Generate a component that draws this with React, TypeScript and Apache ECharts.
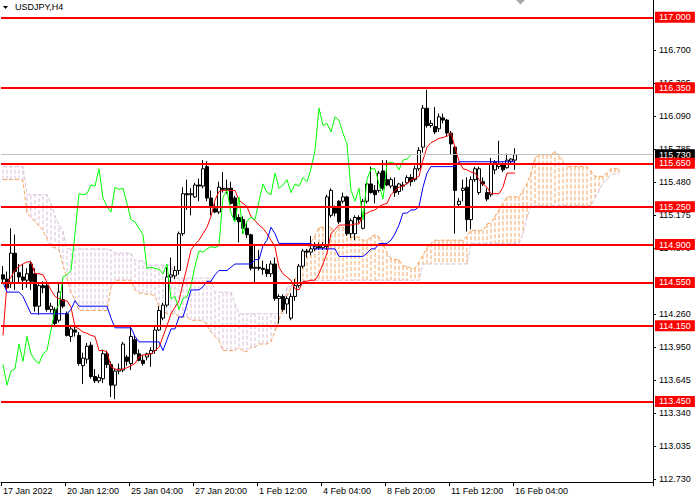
import React, { useEffect, useRef } from "react";
import * as echarts from "echarts";

// ---- Candles (H4 bars, index 0 = left edge) ----
const opens = [
  114.62,114.58,114.55,114.82,114.64,114.60,114.57,114.72,114.63,114.33,
  114.52,114.52,114.30,114.30,114.20,114.39,114.26,114.05,114.11,114.06,
  113.78,113.84,113.97,113.68,113.64,113.66,113.89,113.79,113.60,113.73,
  113.74,113.86,113.80,114.02,113.89,113.83,113.86,113.89,113.92,114.11,
  114.22,114.34,114.60,114.61,114.66,115.00,115.37,115.36,115.34,115.45,
  115.44,115.62,115.33,115.23,115.20,115.42,115.41,115.42,115.33,115.15,
  115.13,115.05,114.99,114.68,114.69,114.68,114.67,114.63,114.72,114.40,
  114.42,114.35,114.22,114.42,114.52,114.70,114.84,114.83,114.86,114.88,
  114.87,114.88,115.17,115.24,115.30,115.30,115.34,115.00,115.00,115.15,
  115.05,115.30,115.46,115.40,115.40,115.58,115.50,115.44,115.44,115.39,
  115.45,115.47,115.52,115.50,115.60,115.80,116.16,116.00,115.99,115.97,
  116.07,116.05,115.93,115.80,115.27,115.40,115.43,115.13,115.50,115.38,
  115.48,115.38,115.36,115.59,115.62,115.64,115.61,115.67,115.68,
];
const closes = [
  114.58,114.50,114.82,114.65,114.60,114.57,114.63,114.56,114.33,114.52,
  114.50,114.30,114.33,114.17,114.46,114.33,114.06,114.12,114.09,113.80,
  113.85,113.96,113.68,113.64,113.67,113.89,113.79,113.60,113.73,113.75,
  113.98,113.82,114.05,113.89,113.83,113.80,113.89,113.92,114.11,114.29,
  114.34,114.60,114.62,114.66,115.00,115.37,115.36,115.37,115.45,115.44,
  115.60,115.33,115.25,115.20,115.43,115.41,115.42,115.28,115.13,115.11,
  115.05,114.99,114.68,114.69,114.68,114.67,114.63,114.72,114.40,114.42,
  114.30,114.40,114.42,114.52,114.70,114.84,114.83,114.86,114.88,114.87,
  114.89,115.34,115.40,115.19,115.11,115.34,115.00,115.12,115.15,115.13,
  115.30,115.46,115.38,115.36,115.56,115.42,115.45,115.50,115.38,115.46,
  115.44,115.52,115.48,115.60,115.77,116.16,116.00,116.02,115.94,116.08,
  116.05,115.93,115.83,115.40,115.30,115.42,115.13,115.50,115.60,115.60,
  115.46,115.32,115.65,115.66,115.65,115.59,115.68,115.69,115.73,
];
const highs = [
  114.70,114.65,115.05,114.99,114.72,114.72,114.68,114.75,114.68,114.55,
  114.56,114.55,114.36,114.32,114.55,114.54,114.28,114.15,114.14,114.09,
  113.90,113.99,114.00,113.75,113.70,113.93,113.92,113.82,113.75,113.80,
  114.00,113.88,114.14,114.06,113.93,113.88,113.90,113.95,114.14,114.33,
  114.36,114.69,114.78,114.70,115.02,115.43,115.50,115.42,115.47,115.51,
  115.68,115.67,115.40,115.28,115.48,115.57,115.50,115.48,115.35,115.18,
  115.16,115.11,115.00,114.89,114.85,114.75,114.72,114.75,114.78,114.44,
  114.44,114.42,114.45,114.58,114.72,114.86,114.86,114.98,114.92,114.92,
  114.92,115.36,115.42,115.26,115.31,115.38,115.35,115.14,115.17,115.17,
  115.32,115.48,115.62,115.45,115.58,115.68,115.68,115.52,115.52,115.47,
  115.48,115.54,115.55,115.63,115.80,116.19,116.33,116.05,116.17,116.11,
  116.11,116.06,115.95,115.81,115.33,115.50,115.52,115.53,115.62,115.62,
  115.52,115.42,115.70,115.68,115.86,115.66,115.74,115.70,115.79,
];
const lows = [
  114.55,114.46,114.50,114.48,114.55,114.48,114.50,114.48,114.28,114.25,
  114.45,114.28,114.27,114.15,114.18,114.31,114.05,114.00,114.05,113.78,
  113.61,113.80,113.66,113.62,113.62,113.62,113.76,113.49,113.47,113.70,
  113.72,113.78,113.74,113.88,113.82,113.78,113.83,113.77,113.89,114.10,
  114.20,114.32,114.55,114.58,114.62,114.98,115.22,115.17,115.33,115.30,
  115.42,115.30,115.17,115.19,115.18,115.38,115.37,115.27,115.12,114.92,
  115.00,114.96,114.66,114.55,114.66,114.62,114.60,114.60,114.38,114.17,
  114.28,114.26,114.20,114.38,114.50,114.68,114.78,114.80,114.84,114.85,
  114.85,114.85,115.15,115.16,115.09,115.28,114.98,114.96,114.94,115.10,
  115.04,115.28,115.37,115.28,115.38,115.40,115.44,115.42,115.34,115.36,
  115.40,115.46,115.44,115.48,115.58,115.75,115.98,115.98,115.92,115.94,
  116.02,115.90,115.73,115.00,115.25,115.30,115.02,115.04,115.48,115.36,
  115.44,115.30,115.34,115.55,115.60,115.57,115.60,115.64,115.59,
];

// ---- Ichimoku lines ----
const tenkan = [
  114.06,114.54,114.60,114.66,114.70,114.72,114.74,114.74,114.63,114.63,
  114.62,114.55,114.48,114.42,114.40,114.38,114.38,114.32,114.14,114.12,
  114.09,114.08,114.06,114.05,113.92,113.92,113.91,113.77,113.75,113.74,
  113.75,113.76,113.78,113.80,113.86,113.88,113.88,113.89,113.92,113.95,
  114.05,114.15,114.26,114.32,114.38,114.54,114.69,114.85,114.90,114.94,
  115.00,115.06,115.16,115.31,115.39,115.40,115.40,115.40,115.40,115.31,
  115.28,115.25,115.16,115.12,115.08,115.05,115.00,114.94,114.88,114.69,
  114.63,114.60,114.57,114.49,114.48,114.56,114.56,114.57,114.57,114.63,
  114.72,114.82,115.00,115.04,115.08,115.08,115.08,115.08,115.09,115.09,
  115.17,115.19,115.21,115.22,115.25,115.27,115.28,115.36,115.40,115.43,
  115.44,115.46,115.50,115.51,115.53,115.68,115.80,115.84,115.86,115.88,
  115.89,115.90,115.93,115.80,115.67,115.60,115.59,115.57,115.56,115.50,
  115.46,115.43,115.37,115.37,115.37,115.43,115.56,115.56,115.56,
];
const kijun = [
  114.55,114.46,114.46,114.46,114.46,114.42,114.34,114.26,114.26,114.26,
  114.26,114.26,114.26,114.26,114.26,114.26,114.26,114.30,114.38,114.33,
  114.33,114.33,114.33,114.33,114.33,114.33,114.33,114.22,114.13,114.13,
  114.13,114.13,114.13,114.05,114.00,114.00,114.00,114.00,114.00,114.00,
  113.92,114.02,114.12,114.12,114.23,114.23,114.35,114.48,114.48,114.48,
  114.51,114.56,114.56,114.62,114.66,114.66,114.66,114.69,114.72,114.72,
  114.72,114.72,114.72,114.76,114.76,114.89,114.94,115.06,115.00,114.91,
  114.91,114.91,114.91,114.91,114.91,114.91,114.91,114.91,114.86,114.86,
  114.86,114.86,114.86,114.86,114.79,114.79,114.79,114.79,114.79,114.79,
  114.79,114.82,114.86,114.86,114.91,114.91,114.91,114.94,115.00,115.08,
  115.19,115.19,115.22,115.22,115.25,115.43,115.56,115.62,115.62,115.62,
  115.62,115.62,115.62,115.62,115.665,115.665,115.665,115.665,115.665,115.665,
  115.665,115.665,115.665,115.665,115.665,115.665,115.665,115.665,115.665,
];
const spanA = [
  115.50,115.50,115.50,115.50,115.50,115.49,115.19,115.15,115.11,115.07,
  115.03,114.95,114.88,114.87,114.85,114.71,114.59,114.45,114.39,114.29,
  114.29,114.29,114.29,114.29,114.29,114.29,114.29,114.50,114.57,114.57,
  114.57,114.57,114.57,114.48,114.45,114.45,114.44,114.44,114.42,114.33,
  114.29,114.26,114.26,114.26,114.23,114.23,114.23,114.20,114.20,114.20,
  114.20,114.15,114.09,114.05,114.01,113.92,113.92,113.92,113.92,113.95,
  113.91,113.91,113.95,113.95,113.98,113.98,113.98,114.00,114.10,114.20,
  114.32,114.42,114.50,114.58,114.65,114.75,114.85,114.92,114.98,115.06,
  115.06,115.06,115.06,115.00,115.06,115.06,115.02,114.97,114.97,114.97,
  114.94,114.94,114.97,114.99,114.97,114.91,114.82,114.77,114.76,114.76,
  114.70,114.70,114.68,114.68,114.74,114.80,114.87,114.91,114.94,114.94,
  114.94,114.94,114.94,114.94,114.94,114.94,114.98,115.03,115.03,115.03,
  115.03,115.09,115.10,115.16,115.22,115.28,115.34,115.34,115.34,115.34,
  115.40,115.46,115.56,115.70,115.73,115.73,115.73,115.73,115.76,115.72,
  115.67,115.62,115.62,115.62,115.62,115.62,115.62,115.58,115.53,115.53,
  115.53,115.56,115.60,115.60,115.60,
];
const spanB = [
  115.62,115.62,115.62,115.62,115.62,115.62,115.36,115.36,115.36,115.36,
  115.36,115.36,115.28,115.16,115.08,115.02,114.86,114.86,114.86,114.86,
  114.86,114.86,114.86,114.86,114.86,114.86,114.86,114.85,114.82,114.82,
  114.82,114.82,114.82,114.75,114.75,114.75,114.71,114.71,114.71,114.71,
  114.71,114.71,114.71,114.59,114.59,114.59,114.59,114.59,114.59,114.59,
  114.59,114.59,114.59,114.46,114.46,114.46,114.46,114.46,114.35,114.26,
  114.26,114.26,114.26,114.26,114.26,114.26,114.26,114.26,114.26,114.26,
  114.26,114.51,114.51,114.51,114.57,114.57,114.57,114.57,114.57,114.57,
  114.57,114.57,114.57,114.57,114.57,114.57,114.57,114.57,114.57,114.57,
  114.57,114.57,114.57,114.57,114.57,114.57,114.57,114.57,114.57,114.57,
  114.57,114.57,114.57,114.57,114.57,114.72,114.72,114.72,114.72,114.72,
  114.72,114.72,114.72,114.72,114.72,114.72,114.72,114.91,114.91,114.91,
  114.91,114.91,114.91,114.91,114.91,114.91,114.91,114.91,114.91,114.91,
  115.00,115.15,115.26,115.26,115.26,115.26,115.26,115.26,115.26,115.26,
  115.26,115.26,115.26,115.26,115.26,115.26,115.26,115.26,115.33,115.40,
  115.47,115.50,115.55,115.55,115.55,
];
const CHIKOU_SHIFT = 26;

// ---- Levels, axis ticks ----
const levels = [117.0, 116.35, 115.65, 115.25, 114.9, 114.55, 114.15, 113.45];
const currentPrice = 115.73;
const yTicks = [112.73, 113.035, 113.34, 113.645, 113.95, 114.26, 114.87, 115.175, 115.48, 115.785, 116.09, 116.395, 116.7];
const xTickLabels = ["17 Jan 2022", "20 Jan 12:00", "25 Jan 04:00", "27 Jan 20:00", "1 Feb 12:00", "4 Feb 04:00", "8 Feb 20:00", "11 Feb 12:00", "16 Feb 04:00"];
const X_TICK_EVERY = 16;
const BAR_SLOTS = 163;

const FONT = "'Liberation Sans', Arial, sans-serif";
const SANDY = "#F4A460";
const THISTLE = "#D8BFD8";

export default function App() {
  const ref = useRef<HTMLDivElement>(null);
  useEffect(() => {
    if (!ref.current) return;
    const chart = echarts.init(ref.current, null, { renderer: "svg" });
    const cats = Array.from({ length: BAR_SLOTS }, (_, i) => String(i));
    const isTick = (i: number) => i % X_TICK_EVERY === 0 && i / X_TICK_EVERY < xTickLabels.length;
    const candle = opens.map((o, i) => [o, closes[i], lows[i], highs[i]]);
    const chikou = closes.slice(CHIKOU_SHIFT);
    // vertical hatch segments of the cloud: [i, A], [i, B], gap
    const cloudUp: any[] = [];
    const cloudDown: any[] = [];
    spanA.forEach((a, i) => {
      const target = a > spanB[i] ? cloudUp : cloudDown;
      target.push([i, a], [i, spanB[i]], [i, "-"]);
    });

    const lineSeries = (data: any[], color: string, z: number, dashed = false) => ({
      type: "line",
      data,
      showSymbol: false,
      symbol: "none",
      z,
      silent: true,
      connectNulls: false,
      itemStyle: { color },
      lineStyle: dashed ? { color, width: 1, type: [4, 2] } : { color, width: 1 },
    });

    chart.setOption({
      animation: false,
      backgroundColor: "#ffffff",
      grid: { left: 0, right: 47, top: 0, bottom: 18, containLabel: false },
      xAxis: {
        type: "category",
        data: cats,
        boundaryGap: true,
        axisLine: { show: true, lineStyle: { color: "#000", width: 1 } },
        axisTick: { show: true, length: 4, interval: (i: number) => isTick(i), lineStyle: { color: "#000" } },
        axisLabel: {
          interval: (i: number) => isTick(i),
          formatter: (_v: string, i: number) => (isTick(i) ? xTickLabels[i / X_TICK_EVERY] : ""),
          align: "left",
          margin: 4,
          color: "#000",
          fontSize: 9,
          fontFamily: FONT,
        },
        splitLine: { show: false },
      },
      yAxis: {
        type: "value",
        position: "right",
        min: 112.705,
        max: 117.16,
        scale: true,
        axisLine: { show: true, lineStyle: { color: "#000", width: 1 } },
        axisTick: { show: true, length: 3, customValues: yTicks, lineStyle: { color: "#000" } },
        axisLabel: {
          customValues: yTicks,
          formatter: (v: number) => v.toFixed(3),
          margin: 6,
          color: "#000",
          fontSize: 9,
          fontFamily: FONT,
        },
        splitLine: { show: false },
      },
      graphic: [
        { type: "polygon", shape: { points: [[3, 6], [8, 6], [5.5, 9]] }, style: { fill: "#000" }, z: 100 },
        { type: "text", left: 15, top: 2, style: { text: "USDJPY,H4", fill: "#000", fontSize: 9, fontFamily: FONT }, z: 100 },
        { type: "polygon", shape: { points: [[516, 0], [525, 0], [520.5, 4.5]] }, style: { fill: "#a8a8a8" }, z: 100 },
      ],
      series: [
        lineSeries(cloudUp, SANDY, 1, true),
        lineSeries(cloudDown, THISTLE, 1, true),
        lineSeries(spanA, SANDY, 1, true),
        lineSeries(spanB, THISTLE, 1, true),
        {
          type: "candlestick",
          data: candle,
          z: 3,
          silent: true,
          barWidth: 3,
          itemStyle: { color: "#ffffff", color0: "#000000", borderColor: "#000000", borderColor0: "#000000", borderWidth: 1 },
        },
        lineSeries(tenkan, "#ff0000", 4),
        lineSeries(kijun, "#0000ff", 4),
        lineSeries(chikou, "#00ff00", 4),
        {
          type: "line",
          data: [],
          z: 6,
          silent: true,
          markLine: {
            silent: true,
            symbol: ["none", "none"],
            animation: false,
            precision: 3,
            data: [
              {
                yAxis: currentPrice,
                lineStyle: { color: "#c0c0c0", width: 1, type: "solid" },
                label: {
                  show: true,
                  position: "end",
                  distance: 2,
                  formatter: () => currentPrice.toFixed(3),
                  backgroundColor: "#000",
                  color: "#fff",
                  padding: [1, 4, 1, 4],
                  fontSize: 9,
                  fontFamily: FONT,
                },
              },
              ...levels.map((v) => ({
                yAxis: v,
                lineStyle: { color: "#ff0000", width: 2, type: "solid" },
                label: {
                  show: true,
                  position: "end",
                  distance: 2,
                  formatter: () => v.toFixed(3),
                  backgroundColor: "#ff0000",
                  color: "#fff",
                  padding: [1, 4, 1, 4],
                  fontSize: 9,
                  fontFamily: FONT,
                },
              })),
            ],
          },
        },
      ],
    });
    return () => chart.dispose();
  }, []);
  return <div ref={ref} style={{ position: "fixed", left: 0, top: 0, width: 700, height: 500 }} />;
}
